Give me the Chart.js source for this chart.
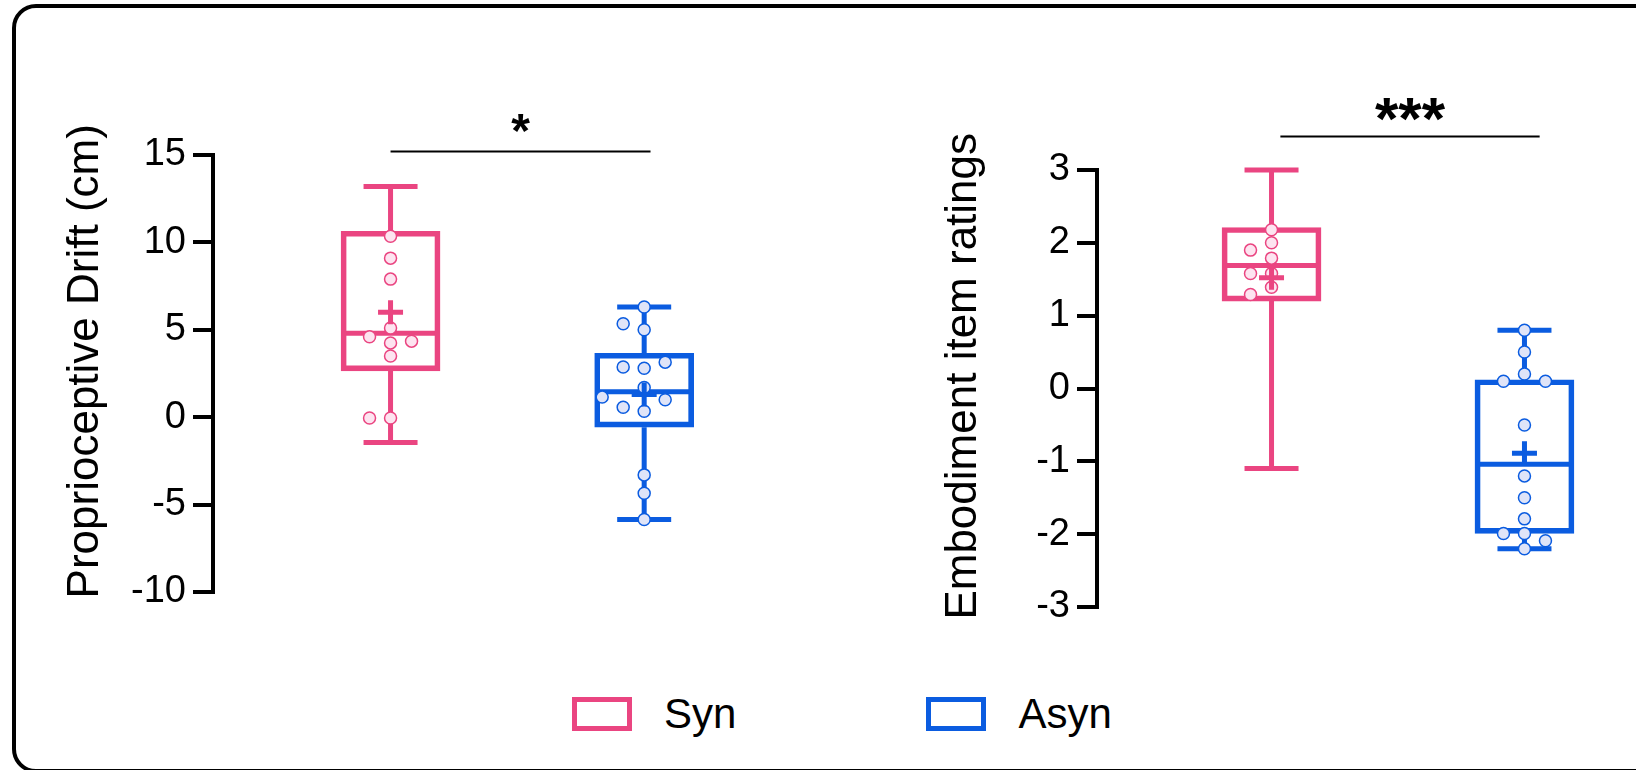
<!DOCTYPE html>
<html>
<head>
<meta charset="utf-8">
<script src="https://cdn.jsdelivr.net/npm/chart.js@4.4.1/dist/chart.umd.min.js"></script>
<style>
  body { margin: 0; width: 1636px; height: 770px; overflow: hidden; background: #fff; position: relative;
         font-family: "Liberation Sans", Arial, Helvetica, sans-serif; }
  #frame { position: absolute; left: 12px; top: 4px; width: 1680px; height: 769px; border: 4px solid #000;
           border-radius: 24px; box-sizing: border-box; }
  #c1 { position: absolute; left: 0; top: 0; }
  #c2 { position: absolute; left: 820px; top: 0; }
  #legend { position: absolute; left: 572px; top: 697px; display: flex; align-items: center; }
  .item { display: flex; align-items: center; margin-right: 190px; }
  .swatch { width: 60px; height: 34px; box-sizing: border-box; border: 5px solid; margin-right: 32px; }
  .label { font-size: 42px; color: #000; line-height: 34px; }
</style>
</head>
<body>
<div id="frame"></div>
<canvas id="c1" width="820" height="660"></canvas>
<canvas id="c2" width="816" height="660"></canvas>
<div id="legend"></div>
<script>
// groups
const groups = ['Syn', 'Asyn'];

// Proprioceptive drift (cm): whiskers min/max, quartiles, median, mean
const driftLow = [-1.45, -5.85];
const driftQ1 = [2.65, -0.57];
const driftMedian = [4.8, 1.45];
const driftQ3 = [10.64, 3.66];
const driftHigh = [13.2, 6.3];
const driftMean = [6.0, 1.3];
const driftSyn = [10.35, 9.1, 7.9, 5.1, 4.25, 3.5, 4.6, 4.35, -0.05, -0.05];
const driftAsyn = [6.3, 5.0, 5.35, 2.8, 2.87, 3.15, 1.7, 0.34, 0.57, 1.0, 1.15, -3.3, -4.35, -5.85];
const driftAxis = [-10, 15, 5]; // min, max, step

// Embodiment item ratings
const embodLow = [-1.1, -2.2];
const embodQ1 = [1.2, -1.99];
const embodMedian = [1.69, -1.04];
const embodQ3 = [2.21, 0.12];
const embodHigh = [3.0, 0.8];
const embodMean = [1.52, -0.89];
const embodSyn = [2.18, 2.0, 1.9, 1.79, 1.58, 1.58, 1.39, 1.29];
const embodAsyn = [0.8, 0.5, 0.2, 0.1, 0.1, -0.5, -1.2, -1.5, -1.79, -1.99, -1.99, -2.09, -2.2];
const embodAxis = [-3, 3, 1];

const stroke = ['#ea4581', '#0b5ce0'];
const dotFill = ['#fde4f0', '#dfe4f8'];
const FONT = '"Liberation Sans", Arial, Helvetica, sans-serif';
Chart.defaults.font.family = FONT;

// box parts: whiskers, caps, median, mean cross, significance bar
const boxParts = {
  id: 'boxParts',
  beforeDatasetsDraw(chart, args, o) {
    const ctx = chart.ctx, xs = chart.scales.x, ys = chart.scales.y;
    ctx.save();
    ctx.lineWidth = 5;
    o.low.forEach((lo, i) => {
      const cx = xs.getPixelForValue(i);
      const yLo = ys.getPixelForValue(lo), yHi = ys.getPixelForValue(o.high[i]);
      const yQ1 = ys.getPixelForValue(o.q1[i]), yQ3 = ys.getPixelForValue(o.q3[i]);
      const yMed = ys.getPixelForValue(o.median[i]);
      ctx.strokeStyle = stroke[i];
      ctx.beginPath();
      ctx.moveTo(cx, yHi); ctx.lineTo(cx, yQ3);
      ctx.moveTo(cx, yQ1); ctx.lineTo(cx, yLo);
      ctx.moveTo(cx - 27, yHi); ctx.lineTo(cx + 27, yHi);
      ctx.moveTo(cx - 27, yLo); ctx.lineTo(cx + 27, yLo);
      ctx.moveTo(cx - 48, yMed); ctx.lineTo(cx + 48, yMed);
      ctx.stroke();
    });
    ctx.restore();
  },
  afterDatasetsDraw(chart, args, o) {
    const ctx = chart.ctx, xs = chart.scales.x, ys = chart.scales.y;
    ctx.save();
    ctx.lineWidth = 5;
    o.mean.forEach((m, i) => {
      const cx = xs.getPixelForValue(i), cy = ys.getPixelForValue(m);
      ctx.strokeStyle = stroke[i];
      ctx.beginPath();
      ctx.moveTo(cx - 12.5, cy); ctx.lineTo(cx + 12.5, cy);
      ctx.moveTo(cx, cy - 12); ctx.lineTo(cx, cy + 12);
      ctx.stroke();
    });
    // significance
    const y = ys.getPixelForValue(o.sigLevel);
    const x0 = xs.getPixelForValue(o.sigFrom), x1 = xs.getPixelForValue(o.sigTo);
    ctx.strokeStyle = '#000';
    ctx.lineWidth = 2;
    ctx.beginPath(); ctx.moveTo(x0, y); ctx.lineTo(x1, y); ctx.stroke();
    ctx.fillStyle = '#000';
    ctx.font = 'bold ' + o.starSize + 'px ' + FONT;
    ctx.textAlign = 'center';
    ctx.textBaseline = 'alphabetic';
    const m = ctx.measureText(o.sig);
    const cy = y - o.starGap;
    ctx.fillText(o.sig, (x0 + x1) / 2, cy + (m.actualBoundingBoxAscent - m.actualBoundingBoxDescent) / 2);
    ctx.restore();
  }
};

function makeChart(id, cfg) {
  const datasets = groups.map((g, i) => ({
    type: 'bar', label: g, data: [{ x: i, y: [cfg.q1[i], cfg.q3[i]] }],
    backgroundColor: 'rgba(255,255,255,0)', borderColor: stroke[i], borderWidth: 5,
    borderSkipped: false, barThickness: 99, grouped: false, order: 2
  }));
  [cfg.syn, cfg.asyn].forEach((vals, i) => datasets.push({
    type: 'scatter', label: groups[i] + ' points', data: vals.map(v => ({ x: i, y: v })),
    pointRadius: 6, pointBorderWidth: 1.5, pointBackgroundColor: dotFill[i],
    pointBorderColor: stroke[i], order: 0
  }));
  const chart = new Chart(document.getElementById(id), {
    type: 'bar',
    data: { datasets },
    options: {
      responsive: false, animation: false, events: [],
      layout: { padding: cfg.padding },
      plugins: {
        legend: { display: false }, tooltip: { enabled: false },
        boxParts: { low: cfg.low, q1: cfg.q1, median: cfg.median, q3: cfg.q3, high: cfg.high,
                    mean: cfg.mean, sig: cfg.sig, sigLevel: cfg.sigLevel, sigFrom: cfg.sigFrom,
                    sigTo: cfg.sigTo, starSize: cfg.starSize, starGap: cfg.starGap }
      },
      scales: {
        x: { type: 'linear', display: false, offset: false, min: cfg.xMin, max: cfg.xMax },
        y: {
          min: cfg.axis[0], max: cfg.axis[1],
          afterFit: s => { s.width = cfg.axisWidth; },
          ticks: { stepSize: cfg.axis[2], color: '#000', padding: 7, font: { size: 38 } },
          grid: { drawOnChartArea: false, tickLength: 20, lineWidth: 4, color: '#000' },
          border: { width: 4, color: '#000' },
          title: { display: true, text: '  ' + cfg.title, color: '#000', font: { size: 44 },
                   padding: { top: cfg.titlePad, bottom: 0 } }
        }
      }
    },
    plugins: [boxParts]
  });
  // spread overlapping dots sideways (simple beeswarm)
  const xs = chart.scales.x, ys = chart.scales.y;
  const unit = xs.getPixelForValue(1) - xs.getPixelForValue(0);
  [2, 3].forEach((d, i) => {
    const placed = [];
    chart.data.datasets[d].data = [cfg.syn, cfg.asyn][i].map(v => {
      const py = ys.getPixelForValue(v);
      for (const k of [0, -1, 1, -2, 2]) {
        const px = k * 21;
        if (placed.every(p => p.k !== k || Math.abs(p.y - py) >= 13)) {
          placed.push({ k, y: py });
          return { x: i + px / unit, y: v };
        }
      }
      return { x: i, y: v };
    });
  });
  chart.update('none');
  return chart;
}

makeChart('c1', {
  low: driftLow, q1: driftQ1, median: driftMedian, q3: driftQ3, high: driftHigh, mean: driftMean,
  syn: driftSyn, asyn: driftAsyn, axis: driftAxis,
  title: 'Proprioceptive Drift (cm)', sig: '*', sigLevel: 15.2, sigFrom: 0, sigTo: 1.025,
  starSize: 48, starGap: 29,
  padding: { top: 155, bottom: 68, left: 0, right: 49 },
  axisWidth: 213, titlePad: 59, xMin: -0.7, xMax: 1.5
});

makeChart('c2', {
  low: embodLow, q1: embodQ1, median: embodMedian, q3: embodQ3, high: embodHigh, mean: embodMean,
  syn: embodSyn, asyn: embodAsyn, axis: embodAxis,
  title: 'Embodiment item ratings', sig: '***', sigLevel: 3.46, sigFrom: 0.035, sigTo: 1.06,
  starSize: 60, starGap: 27,
  padding: { top: 170, bottom: 53, left: 0, right: 23 },
  axisWidth: 277, titlePad: 117, xMin: -0.69, xMax: 1.35
});

// legend
const legend = document.getElementById('legend');
groups.forEach((g, i) => {
  const item = document.createElement('div');
  item.className = 'item';
  item.innerHTML = '<div class="swatch" style="border-color:' + stroke[i] + '"></div><span class="label">' + g + '</span>';
  legend.appendChild(item);
});
</script>
</body>
</html>
